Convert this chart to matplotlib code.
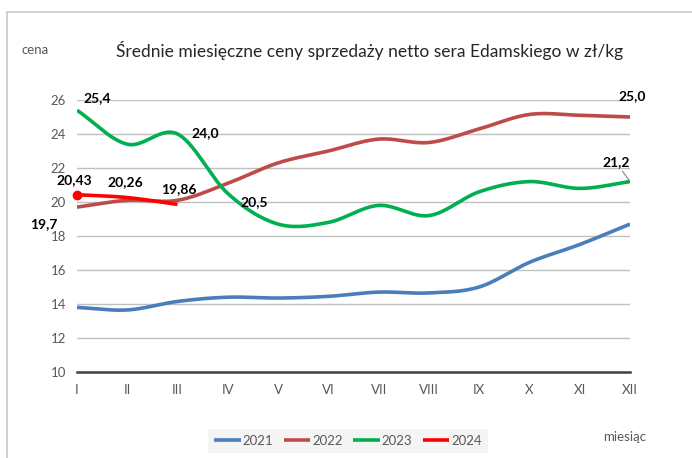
import numpy as np
import matplotlib
matplotlib.use("Agg")
import matplotlib.pyplot as plt
from matplotlib.patches import Rectangle

plt.rcParams['font.family'] = ['Lato', 'DejaVu Sans']

# dane
months = ['I', 'II', 'III', 'IV', 'V', 'VI', 'VII', 'VIII', 'IX', 'X', 'XI', 'XII']
y2021 = [13.8, 13.65, 14.15, 14.4, 14.35, 14.45, 14.7, 14.65, 15.0, 16.45, 17.5, 18.7]
y2022 = [19.7, 20.1, 20.1, 21.1, 22.3, 23.0, 23.7, 23.5, 24.3, 25.15, 25.1, 25.0]
y2023 = [25.4, 23.4, 24.0, 20.5, 18.7, 18.8, 19.8, 19.2, 20.6, 21.2, 20.8, 21.2]
y2024 = [20.43, 20.26, 19.86]
years = ['2021', '2022', '2023', '2024']
colors = ['#4A7EBB', '#BE4B48', '#00B050', '#FF0000']


def smooth(y, n=30):
    # wygladzanie jak w Excelu (Catmull-Rom)
    y = np.asarray(y, dtype=float)
    x = np.arange(len(y), dtype=float)
    if len(y) < 3:
        return x, y
    px = np.concatenate([[2 * x[0] - x[1]], x, [2 * x[-1] - x[-2]]])
    py = np.concatenate([[2 * y[0] - y[1]], y, [2 * y[-1] - y[-2]]])
    xs, ys = [], []
    for i in range(1, len(px) - 2):
        t = np.linspace(0, 1, n, endpoint=False)
        for arr, out in ((px, xs), (py, ys)):
            p0, p1, p2, p3 = arr[i - 1], arr[i], arr[i + 1], arr[i + 2]
            out.append(0.5 * ((2 * p1) + (-p0 + p2) * t +
                              (2 * p0 - 5 * p1 + 4 * p2 - p3) * t ** 2 +
                              (-p0 + 3 * p1 - 3 * p2 + p3) * t ** 3))
    xs.append([x[-1]])
    ys.append([y[-1]])
    return np.concatenate(xs), np.concatenate(ys)


fig = plt.figure(figsize=(6.92, 4.58), dpi=100)
fig.patches.append(Rectangle((7 / 692, -0.05), 1.0, 1 - 12 / 458 + 0.05,
                             transform=fig.transFigure, fill=False,
                             edgecolor='#C8C8C8', lw=1.2))
ax = fig.add_axes([77 / 692, 1 - 372 / 458, 553 / 692, 272 / 458])

for yv, c, lab in zip([y2021, y2022, y2023, y2024], colors, years):
    sx, sy = smooth(yv)
    ax.plot(sx, sy, color=c, lw=2.6, label=lab, solid_capstyle='butt', zorder=3)
ax.plot(0, y2024[0], 'o', color=colors[3], ms=6, zorder=4, clip_on=False)

ax.set_xlim(0, 11)
ax.set_ylim(10, 26)
ax.set_yticks(range(10, 27, 2))
ax.set_xticks(range(12))
ax.set_xticklabels(months)
ax.grid(axis='y', color='#C0C0C0', lw=1)
ax.set_axisbelow(True)
for s in ['left', 'right', 'top']:
    ax.spines[s].set_visible(False)
ax.spines['bottom'].set_color('#404040')
ax.spines['bottom'].set_linewidth(1.8)
ax.tick_params(length=0, colors='#595959', labelsize=9.5)
ax.tick_params(axis='x', pad=9)
ax.tick_params(axis='y', pad=8)

bold = dict(fontsize=10, fontweight='bold', color='black', zorder=5)
ax.annotate('25,4', (0, y2023[0]), xytext=(5, 6), textcoords='offset points', **bold)
ax.annotate('24,0', (2, y2023[2]), xytext=(10, -2), textcoords='offset points', **bold)
ax.annotate('20,5', (3, y2023[3]), xytext=(9, -9), textcoords='offset points', **bold)
ax.annotate('25,0', (11, y2022[11]), xytext=(-8, 12), textcoords='offset points', **bold)
ax.annotate('21,2', (11, y2023[11]), xytext=(-20, 11), textcoords='offset points',
            arrowprops=dict(arrowstyle='-', color='#808080', lw=0.8,
                            shrinkA=0, shrinkB=1), **bold)
ax.annotate('19,7', (0, y2022[0]), xytext=(-34, -15), textcoords='offset points', **bold)
ax.annotate('20,43', (0, y2024[0]), xytext=(-15, 8), textcoords='offset points', **bold)
ax.annotate('20,26', (1, y2024[1]), xytext=(-14, 8), textcoords='offset points', **bold)
ax.annotate('19,86', (2, y2024[2]), xytext=(-12, 8), textcoords='offset points', **bold)

fig.text(370 / 692, 1 - 50 / 458, 'Średnie miesięczne ceny sprzedaży netto sera Edamskiego w zł/kg',
         ha='center', va='center', fontsize=12.5, color='#262626')
fig.text(22 / 692, 1 - 50 / 458, 'cena', ha='left', va='center', fontsize=9.5, color='#595959')
fig.text(625 / 692, 1 - 437 / 458, 'miesiąc', ha='center', va='center', fontsize=9.5, color='#595959')

leg = fig.legend(loc='center', bbox_to_anchor=(348 / 692, 1 - 441 / 458), ncol=4,
                 frameon=True, fontsize=9.5, handlelength=2.0, handletextpad=0.15,
                 columnspacing=0.8, borderpad=0.45)
leg.get_frame().set_facecolor('#F2F2F2')
leg.get_frame().set_edgecolor('none')
leg.get_frame().set_boxstyle('square', pad=0)
for t in leg.get_texts():
    t.set_color('#595959')

fig.savefig('out.png', dpi=100)
